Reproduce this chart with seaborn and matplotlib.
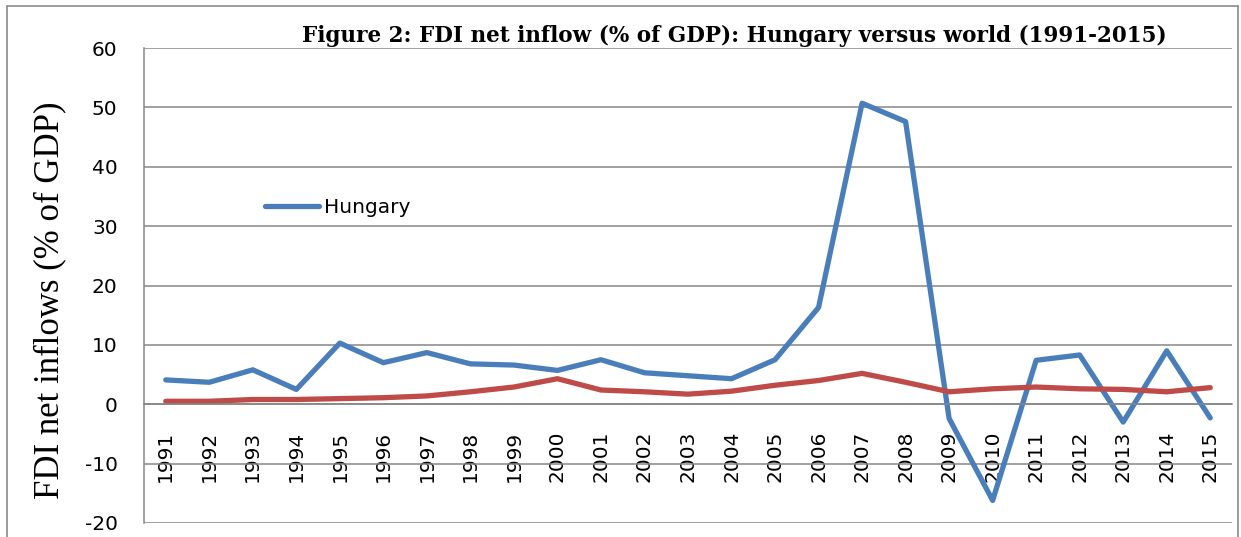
import numpy as np
import pandas as pd
import seaborn as sns
import matplotlib.pyplot as plt
from matplotlib.lines import Line2D

# data
years = list(range(1991, 2016))
hungary = [4.1, 3.7, 5.8, 2.5, 10.3, 7.0, 8.7, 6.8, 6.6, 5.7, 7.5, 5.3, 4.8, 4.3, 7.5,
           16.3, 50.7, 47.6, -2.4, -16.2, 7.4, 8.3, -3.0, 9.0, -2.3]
world = [0.5, 0.5, 0.8, 0.8, 0.95, 1.1, 1.4, 2.1, 2.9, 4.3, 2.4, 2.1, 1.7, 2.2, 3.2,
         4.0, 5.2, 3.7, 2.1, 2.6, 2.9, 2.6, 2.5, 2.1, 2.8]
series_names = ['Hungary', 'World']
colors = ['#4A7EBB', '#BE4B48']
yticks = [-20, -10, 0, 10, 20, 30, 40, 50, 60]

df = pd.DataFrame({'year': years * 2,
                   'value': hungary + world,
                   'series': [series_names[0]] * len(years) + [series_names[1]] * len(years)})

sns.set_style('white')
plt.rcParams['font.family'] = ['DejaVu Sans']
plt.rcParams['axes.unicode_minus'] = False
plt.rcParams['text.color'] = 'black'
plt.rcParams['xtick.color'] = 'black'
plt.rcParams['ytick.color'] = 'black'

fig = plt.figure(figsize=(12.41, 5.37), dpi=100)
ax = fig.add_axes([144/1241, 1-523/537, (1232-144)/1241, (523-48)/537])

sns.lineplot(data=df, x='year', y='value', hue='series', palette=colors,
             linewidth=3.8, ax=ax, legend=False)

ax.set_xlim(1990.5, 2015.5)
ax.set_ylim(-20, 60)
ax.set_yticks(yticks)
ax.set_xticks(years)
ax.set_xticklabels([str(y) for y in years])
ax.tick_params(axis='x', length=0, pad=19, labelrotation=90, labelsize=14.5)
ax.tick_params(axis='y', length=0, pad=19, labelsize=14.5)
ax.set_xlabel('')
ax.set_ylabel('')
ax.yaxis.grid(True, color='#868686', linewidth=1.1)
ax.set_axisbelow(True)

for s in ['top', 'right']:
    ax.spines[s].set_visible(False)
ax.spines['left'].set_color('#868686')
ax.spines['left'].set_linewidth(1.1)
ax.spines['bottom'].set_position(('data', 0))
ax.spines['bottom'].set_color('#868686')
ax.spines['bottom'].set_linewidth(1.1)

# legend shows only Hungary
h = Line2D([], [], color=colors[0], linewidth=3.8)
ax.legend([h], [series_names[0]], loc='center left', bbox_to_anchor=(0.111, 0.665),
          frameon=False, fontsize=14.5, handlelength=2.7, handletextpad=0.25,
          borderaxespad=0, borderpad=0)

fig.text(734/1241, 1-36/537, 'Figure 2: FDI net inflow (% of GDP): Hungary versus world (1991-2015)',
         ha='center', va='center', fontsize=15.5, fontweight='bold', family='DejaVu Serif')
fig.text(50/1241, 1-300/537, 'FDI net inflows (% of GDP)', rotation=90, ha='center', va='center',
         fontsize=25, family='Liberation Serif')

# outer frame
fc = '#8a8a8a'
fig.add_artist(Line2D([7/1241, 7/1241], [0, 1-6/537], color=fc, linewidth=1.2))
fig.add_artist(Line2D([7/1241, 1238/1241], [1-6/537, 1-6/537], color=fc, linewidth=1.2))
fig.add_artist(Line2D([1238/1241, 1238/1241], [0, 1-6/537], color=fc, linewidth=1.2))

fig.savefig('out.png', dpi=100)
